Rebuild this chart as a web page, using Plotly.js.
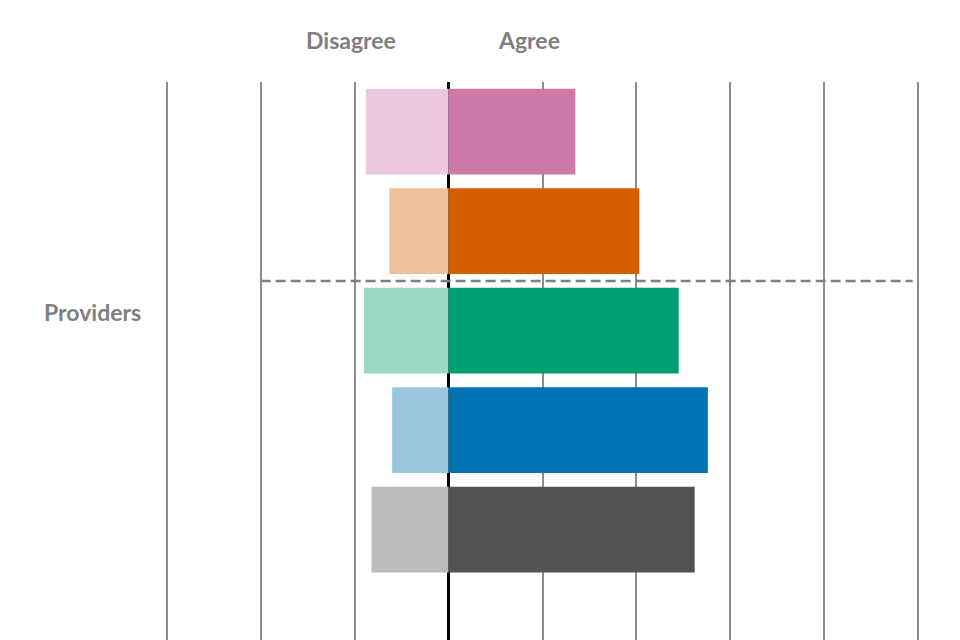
<!DOCTYPE html>
<html>
<head>
<meta charset="utf-8">
<script src="https://cdn.plot.ly/plotly-3.0.1.min.js"></script>
<style>html,body{margin:0;padding:0;background:#fff;}#chart{width:960px;height:640px;}</style>
</head>
<body>
<div id="chart"></div>
<script>
// Data (percent of respondents)
const categories = ["Item 1", "Item 2", "Item 3", "Item 4", "Item 5"];
const disagreeValues = [8.8, 6.3, 9.0, 6.0, 8.2];
const agreeValues = [13.5, 20.3, 24.5, 27.6, 26.2];
const agreeColors = ["#CC79A7", "#D55E00", "#009E73", "#0072B2", "#535353"];
const disagreeColors = ["#EBC8DE", "#EFBF99", "#9BD8C6", "#9CC6DF", "#BBBBBB"];
const groupLabel = "Providers";
const headerLabels = ["Disagree", "Agree"];

const textColor = "#7F7F7F";
const fontFamily = "Lato, 'Open Sans', sans-serif";

const traces = [
  {
    type: "bar",
    orientation: "h",
    name: "Disagree",
    y: categories,
    x: disagreeValues.map(v => -v),
    marker: { color: disagreeColors, line: { width: 0 } },
    hoverinfo: "skip"
  },
  {
    type: "bar",
    orientation: "h",
    name: "Agree",
    y: categories,
    x: agreeValues,
    marker: { color: agreeColors, line: { width: 0 } },
    hoverinfo: "skip"
  }
];

const layout = {
  width: 960,
  height: 640,
  margin: { l: 162, r: 960 - 162 - 761.4, t: 82, b: 0, pad: 0 },
  paper_bgcolor: "#ffffff",
  plot_bgcolor: "#ffffff",
  showlegend: false,
  barmode: "relative",
  bargap: 0.138,
  xaxis: {
    range: [-30.5, 50.5],
    tick0: 0,
    dtick: 10,
    showgrid: true,
    gridcolor: "#8C8C8C",
    gridwidth: 2,
    zeroline: true,
    zerolinecolor: "#000000",
    zerolinewidth: 3,
    showticklabels: false,
    ticks: "",
    showline: false,
    fixedrange: true
  },
  yaxis: {
    type: "category",
    range: [5.11, -0.5],
    showgrid: false,
    zeroline: false,
    showticklabels: false,
    ticks: "",
    showline: false,
    fixedrange: true
  },
  shapes: [
    {
      type: "line",
      xref: "x", yref: "y",
      x0: -20, x1: 49.4,
      y0: 1.5, y1: 1.5,
      line: { color: "#808080", width: 2.5, dash: "10px,5px" },
      layer: "above"
    }
  ],
  annotations: [
    {
      text: "<b>" + headerLabels[0] + "</b>",
      xref: "x", yref: "paper",
      x: -10.4, y: 1 + 42 / 558,
      xanchor: "center", yanchor: "middle",
      showarrow: false,
      font: { family: fontFamily, size: 23, color: textColor }
    },
    {
      text: "<b>" + headerLabels[1] + "</b>",
      xref: "x", yref: "paper",
      x: 8.6, y: 1 + 42 / 558,
      xanchor: "center", yanchor: "middle",
      showarrow: false,
      font: { family: fontFamily, size: 23, color: textColor }
    },
    {
      text: "<b>" + groupLabel + "</b>",
      xref: "paper", yref: "y",
      x: -(162 - 92) / 761.4, y: 1.81,
      xanchor: "center", yanchor: "middle",
      showarrow: false,
      font: { family: fontFamily, size: 23, color: textColor }
    }
  ]
};

Plotly.newPlot("chart", traces, layout, { displayModeBar: false, staticPlot: true });
</script>
</body>
</html>
